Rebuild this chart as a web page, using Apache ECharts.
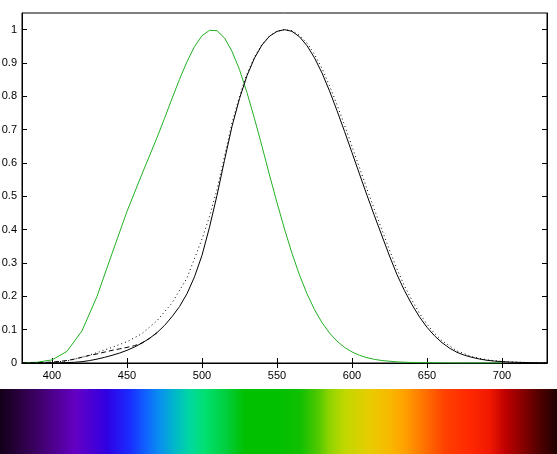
<!DOCTYPE html>
<html><head><meta charset="utf-8">
<script src="https://cdn.jsdelivr.net/npm/echarts@6/dist/echarts.min.js"></script>
<style>html,body{margin:0;padding:0;background:#fff}#c{width:557px;height:454px}</style>
</head><body><div id="c"></div>
<script>
// Photopic luminosity (solid black)
const photopicWl = [380,385,390,395,400,405,410,415,420,425,430,435,440,445,450,455,460,465,470,475,480,485,490,495,500,505,510,515,520,525,530,535,540,545,550,555,560,565,570,575,580,585,590,595,600,605,610,615,620,625,630,635,640,645,650,655,660,665,670,675,680,685,690,695,700,705,710,715,720,725,730];
const photopicV = [0.000039,0.000064,0.00012,0.000217,0.000396,0.00064,0.00121,0.00218,0.004,0.0073,0.0116,0.01684,0.023,0.0298,0.038,0.048,0.06,0.0739,0.091,0.1126,0.139,0.1693,0.208,0.2586,0.323,0.4073,0.503,0.6082,0.71,0.7932,0.862,0.9149,0.954,0.9803,0.995,1.0,0.995,0.9786,0.952,0.9154,0.87,0.8163,0.757,0.6949,0.631,0.5668,0.503,0.4412,0.381,0.321,0.265,0.217,0.175,0.1382,0.107,0.0816,0.061,0.0446,0.032,0.0232,0.017,0.0119,0.0082,0.0057,0.0041,0.0029,0.0021,0.0015,0.00105,0.00074,0.00052];
// Modified photopic (dashed black; only differs at short wavelengths, merges with solid above 460)
const dashedWl = [380,385,390,395,400,405,410,415,420,425,430,435,440,445,450,455,460,465,470];
const dashedV = [0.0002,0.0004,0.0008,0.00155,0.0028,0.00466,0.0074,0.0118,0.0175,0.0227,0.0273,0.0326,0.0379,0.0424,0.0468,0.0521,0.06,0.0739,0.091];
// Alternative photopic (dotted black)
const dottedWl = [400,410,420,430,440,450,460,470,480,490,500,505,510,515,520,525,530,535,540,545,550,555,560,565,570,575,580,585,590,595,600,605,610,615,620,625,630,635,640,645,650,655,660,670,680,690,700,710,720,730];
const dottedV = [0.002,0.006,0.017,0.031,0.047,0.064,0.088,0.127,0.18,0.255,0.372,0.44,0.52,0.62,0.72,0.8,0.868,0.918,0.956,0.981,0.995,1.0,0.997,0.983,0.96,0.926,0.884,0.832,0.775,0.714,0.65,0.586,0.522,0.46,0.399,0.339,0.282,0.231,0.188,0.149,0.116,0.089,0.067,0.036,0.019,0.0093,0.0046,0.0024,0.0012,0.0006];
// Scotopic luminosity (green)
const scotopicWl = [380,390,400,410,420,430,440,450,460,470,475,480,485,490,495,500,505,510,515,520,525,530,535,540,545,550,555,560,565,570,575,580,585,590,595,600,605,610,615,620,630,640,650,660,670,680,690,700];
const scotopicV = [0.000589,0.002209,0.00929,0.03484,0.0966,0.1998,0.3281,0.455,0.567,0.676,0.734,0.793,0.851,0.904,0.949,0.982,0.998,0.997,0.975,0.935,0.88,0.811,0.733,0.65,0.564,0.481,0.402,0.3288,0.2639,0.2076,0.1602,0.1212,0.0899,0.0655,0.0469,0.03315,0.02312,0.01593,0.01088,0.00737,0.003335,0.001497,0.000677,0.000313,0.000148,0.0000715,0.0000353,0.0000178];

const xTicks = [400,450,500,550,600,650,700];
const yTicks = [0,0.1,0.2,0.3,0.4,0.5,0.6,0.7,0.8,0.9,1];

// spectrum bar colour stops (fraction across width, colour)
const spectrumStops = [
  [0.000,'#140018'],[0.036,'#2a0040'],[0.072,'#40006c'],[0.135,'#6400c4'],
  [0.192,'#3000e2'],[0.233,'#1a2cff'],[0.260,'#1060ff'],[0.287,'#0a90f0'],
  [0.314,'#00b8c8'],[0.341,'#00d8a0'],[0.368,'#00e070'],[0.404,'#00d040'],
  [0.440,'#00c000'],[0.497,'#00c000'],[0.539,'#10c000'],[0.571,'#50c800'],
  [0.592,'#90d400'],[0.619,'#c0d800'],[0.664,'#e8cc00'],[0.700,'#f8b800'],
  [0.727,'#ffa000'],[0.763,'#ff7000'],[0.799,'#ff4000'],[0.844,'#ff2800'],
  [0.880,'#f01800'],[0.907,'#c00000'],[0.934,'#900000'],[0.969,'#500000'],
  [1.000,'#200000']
];

const zip = (a, b) => a.map((w, i) => [w, b[i]]);
const FONT = 'Liberation Sans, Arial, Helvetica, sans-serif';
const chart = echarts.init(document.getElementById('c'), null, {renderer: 'canvas'});

const axisLineStyle = {show: true, lineStyle: {color: '#000', width: 1}};
const tickStyle = (vals) => ({show: true, inside: true, length: 5, lineStyle: {color: '#000', width: 1}, customValues: vals});

chart.setOption({
  animation: false,
  backgroundColor: '#fff',
  grid: {left: 22, top: 13, width: 525, height: 350, containLabel: false, outerBoundsMode: 'none',
         show: true, borderColor: '#000', borderWidth: 1, backgroundColor: 'transparent'},
  xAxis: [
    {type: 'value', min: 380, max: 730, position: 'bottom', axisLine: axisLineStyle,
     axisTick: tickStyle(xTicks), splitLine: {show: false},
     axisLabel: {show: true, customValues: xTicks, color: '#000', fontSize: 11, fontFamily: FONT, margin: 7}},
    {type: 'value', min: 380, max: 730, position: 'top', axisLine: axisLineStyle,
     axisTick: tickStyle(xTicks), splitLine: {show: false}, axisLabel: {show: false}}
  ],
  yAxis: [
    {type: 'value', min: 0, max: 1.05, position: 'left', axisLine: axisLineStyle,
     axisTick: tickStyle(yTicks), splitLine: {show: false},
     axisLabel: {show: true, customValues: yTicks, color: '#000', fontSize: 11, fontFamily: FONT, margin: 5,
                 formatter: v => String(v)}},
    {type: 'value', min: 0, max: 1.05, position: 'right', axisLine: axisLineStyle,
     axisTick: tickStyle(yTicks), splitLine: {show: false}, axisLabel: {show: false}}
  ],
  series: [
    {type: 'line', name: 'scotopic', data: zip(scotopicWl, scotopicV), showSymbol: false, symbol: 'none',
     lineStyle: {color: '#22b022', width: 1}, z: 2},
    {type: 'line', name: 'dotted', data: zip(dottedWl, dottedV), showSymbol: false, symbol: 'none',
     lineStyle: {color: '#000', width: 1, type: [1, 3]}, z: 3},
    {type: 'line', name: 'dashed', data: zip(dashedWl, dashedV), showSymbol: false, symbol: 'none',
     lineStyle: {color: '#000', width: 1, type: [5, 3]}, z: 4},
    {type: 'line', name: 'photopic', data: zip(photopicWl, photopicV), showSymbol: false, symbol: 'none',
     lineStyle: {color: '#000', width: 1}, z: 5}
  ],
  graphic: [{
    type: 'rect', silent: true,
    shape: {x: 0, y: 389, width: 557, height: 65},
    style: {fill: new echarts.graphic.LinearGradient(0, 0, 1, 0,
      spectrumStops.map(s => ({offset: s[0], color: s[1]})))}
  }]
});
</script></body></html>
